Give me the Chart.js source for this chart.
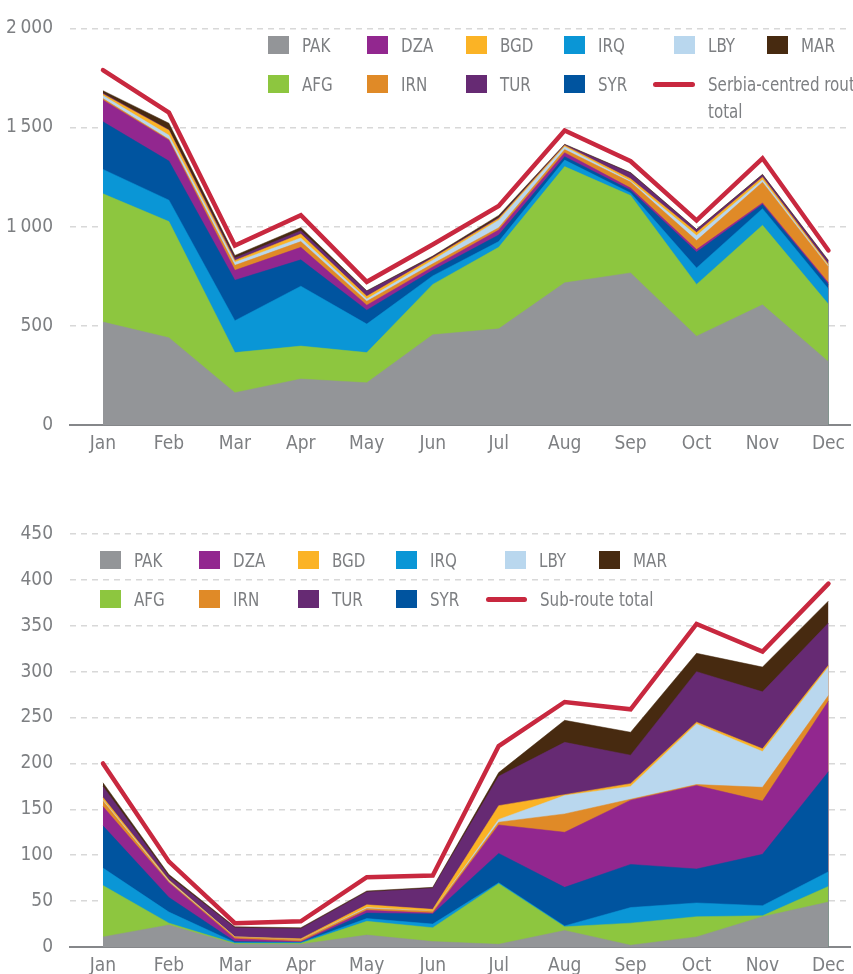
<!DOCTYPE html>
<html>
<head>
<meta charset="utf-8">
<script src="https://cdn.jsdelivr.net/npm/chart.js@4.4.1/dist/chart.umd.min.js"></script>
<style>
  html, body { margin: 0; padding: 0; background: #fff; overflow: hidden; }
  body {
    width: 853px; height: 974px; position: relative;
    font-family: 'Liberation Sans Narrow', 'DejaVu Sans Condensed', sans-serif;
    color: #7d7f82;
  }
  canvas { position: absolute; left: 0; }
  #topChart { top: 0; }
  #bottomChart { top: 490px; }
  .lg-box { position: absolute; width: 21px; height: 18px; }
  .lg-line { position: absolute; height: 5px; border-radius: 3px; }
  .lg-text {
    position: absolute; font-size: 20px; line-height: 27px; white-space: nowrap;
    transform: scaleX(0.84); transform-origin: 0 0;
  }
</style>
</head>
<body>
<canvas id="topChart" width="853" height="470"></canvas>
<canvas id="bottomChart" width="853" height="502"></canvas>
<div id="legends"></div>
<script>
// months on the x axis
const months = ['Jan', 'Feb', 'Mar', 'Apr', 'May', 'Jun', 'Jul', 'Aug', 'Sep', 'Oct', 'Nov', 'Dec'];

// stacking order, bottom to top
const countries = ['PAK', 'AFG', 'IRQ', 'SYR', 'DZA', 'IRN', 'LBY', 'BGD', 'TUR', 'MAR'];

// Serbia-centred route (top chart)
const routePAK = [519, 440, 163, 232, 213, 455, 485, 717, 767, 448, 606, 319];
const routeAFG = [647, 586, 202, 166, 152, 254, 411, 586, 390, 261, 401, 290];
const routeIRQ = [123, 108, 161, 302, 144, 43, 29, 33, 13, 83, 84, 77];
const routeSYR = [240, 197, 204, 133, 70, 28, 33, 17, 14, 80, 21, 23];
const routeDZA = [110, 105, 50, 63, 25, 17, 25, 20, 11, 13, 8, 8];
const routeIRN = [7, 5, 25, 29, 20, 16, 12, 16, 30, 45, 104, 80];
const routeLBY = [15, 20, 16, 18, 11, 18, 38, 14, 5, 25, 13, 5];
const routeBGD = [8, 25, 9, 20, 14, 11, 8, 7, 12, 16, 13, 7];
const routeTUR = [5, 3, 12, 17, 25, 5, 5, 3, 28, 13, 11, 17];
const routeMAR = [12, 33, 13, 16, 3, 5, 11, 3, 3, 3, 3, 4];
const routeTotal = [1790, 1575, 905, 1058, 722, 910, 1105, 1485, 1330, 1032, 1345, 880];

// Sub-route (bottom chart)
const subPAK = [11, 24, 3, 3, 13, 6, 3, 18, 2, 11, 33, 49];
const subAFG = [56, 2, 1, 1, 15, 15, 66, 4, 24, 22, 1, 17];
const subIRQ = [19, 12, 1, 1, 3, 4, 1, 1, 17, 15, 11, 16];
const subSYR = [46, 16, 1, 0, 6, 11, 32, 42, 47, 37, 56, 109];
const subDZA = [21, 16, 3, 1, 3, 1, 31, 60, 70, 91, 58, 77];
const subIRN = [6, 1, 2, 2, 2, 2, 3, 20, 1, 1, 15, 6];
const subLBY = [1, 1, 0, 0, 1, 0, 3, 20, 14, 66, 39, 31];
const subBGD = [3, 1, 0, 1, 3, 2, 15, 1, 3, 2, 3, 2];
const subTUR = [12, 4, 10, 11, 14, 23, 32, 57, 31, 55, 62, 46];
const subMAR = [4, 2, 1, 1, 1, 1, 4, 24, 25, 20, 27, 24];
const subTotal = [200, 93, 26, 28, 76, 78, 219, 267, 259, 352, 322, 396];

const colors = {
    PAK: '#939598',
    AFG: '#8dc63f',
    IRQ: '#0a96d6',
    SYR: '#00549f',
    DZA: '#92278f',
    IRN: '#e08a27',
    LBY: '#b9d7ee',
    BGD: '#fbb325',
    TUR: '#662a73',
    MAR: '#472a10'
};
const totalColor = '#c8283f';
const textColor = '#7d7f82';
const fontFamily = "'Liberation Sans Narrow', 'DejaVu Sans Condensed', sans-serif";

function toPoints(values) {
    return values.map((v, i) => ({ x: i, y: v }));
}

// 2000 -> "2 000" with a thin space
function formatThousands(v) {
    return String(v).replace(/\B(?=(\d{3})+(?!\d))/g, '\u2009');
}

function makeChart(canvasId, series, total, yMax, yStep, padTop) {
    const datasets = countries.map((c, i) => ({
        label: c,
        data: toPoints(series[i]),
        backgroundColor: colors[c],
        borderColor: colors[c],
        borderWidth: 0.5,
        pointRadius: 0,
        pointHoverRadius: 0,
        fill: 'origin',
        order: 1
    }));
    datasets.push({
        label: 'total',
        data: toPoints(total),
        borderColor: totalColor,
        borderWidth: 4.5,
        borderCapStyle: 'round',
        borderJoinStyle: 'miter',
        pointRadius: 0,
        pointHoverRadius: 0,
        fill: false,
        stack: 'total',
        order: -1
    });

    return new Chart(document.getElementById(canvasId), {
        type: 'line',
        data: { datasets: datasets },
        options: {
            responsive: false,
            devicePixelRatio: 1,
            animation: false,
            layout: { padding: { top: padTop, left: 0, right: 0, bottom: 0 } },
            plugins: {
                legend: { display: false },
                tooltip: { enabled: false }
            },
            scales: {
                x: {
                    type: 'linear',
                    min: -0.5,
                    max: 11.33,
                    afterBuildTicks: s => { s.ticks = months.map((m, i) => ({ value: i })); },
                    afterFit: s => { s.height = 45; },
                    grid: { display: true, drawOnChartArea: false, drawTicks: false },
                    border: { display: true, color: '#85878a', width: 2 },
                    ticks: {
                        autoSkip: false,
                        maxRotation: 0,
                        padding: 8,
                        color: textColor,
                        font: { family: fontFamily, size: 19 },
                        callback: v => months[v]
                    }
                },
                y: {
                    stacked: true,
                    min: 0,
                    max: yMax,
                    afterFit: s => { s.width = 70; },
                    grid: { color: '#d8d8d8', lineWidth: 1.5, drawTicks: false },
                    border: { display: false, dash: [6, 5] },
                    ticks: {
                        stepSize: yStep,
                        padding: 17,
                        color: textColor,
                        font: { family: fontFamily, size: 19 },
                        callback: v => formatThousands(v)
                    }
                }
            }
        }
    });
}

makeChart('topChart',
    [routePAK, routeAFG, routeIRQ, routeSYR, routeDZA, routeIRN, routeLBY, routeBGD, routeTUR, routeMAR],
    routeTotal, 2000, 500, 23);
makeChart('bottomChart',
    [subPAK, subAFG, subIRQ, subSYR, subDZA, subIRN, subLBY, subBGD, subTUR, subMAR],
    subTotal, 450, 50, 44);

// legends: two rows, drawn as html
const legendRows = [
    ['PAK', 'DZA', 'BGD', 'IRQ', 'LBY', 'MAR'],
    ['AFG', 'IRN', 'TUR', 'SYR']
];

function addLegend(colX, rowTop, lineX, lineW, totalText) {
    const host = document.getElementById('legends');
    legendRows.forEach((row, r) => {
        row.forEach((c, k) => {
            const box = document.createElement('div');
            box.className = 'lg-box';
            box.style.left = colX[k] + 'px';
            box.style.top = rowTop[r] + 'px';
            box.style.background = colors[c];
            host.appendChild(box);

            const txt = document.createElement('div');
            txt.className = 'lg-text';
            txt.style.left = (colX[k] + 34) + 'px';
            txt.style.top = (rowTop[r] - 4) + 'px';
            txt.textContent = c;
            host.appendChild(txt);
        });
    });
    const line = document.createElement('div');
    line.className = 'lg-line';
    line.style.left = lineX + 'px';
    line.style.width = lineW + 'px';
    line.style.top = (rowTop[1] + 7) + 'px';
    line.style.background = totalColor;
    host.appendChild(line);

    const txt = document.createElement('div');
    txt.className = 'lg-text';
    txt.style.left = (lineX + lineW + 13) + 'px';
    txt.style.top = (rowTop[1] - 4) + 'px';
    txt.innerHTML = totalText;
    host.appendChild(txt);
}

addLegend([268, 367, 466, 564, 674, 767], [36, 75], 653, 42, 'Serbia-centred route<br>total');
addLegend([100, 199, 298, 396, 505, 599], [551, 590], 486, 41, 'Sub-route total');
</script>
</body>
</html>
